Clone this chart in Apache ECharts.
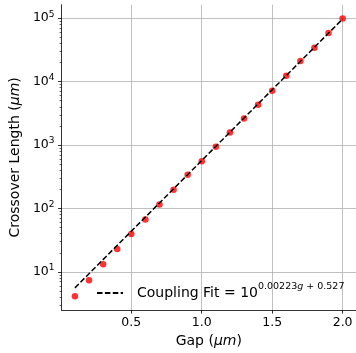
<!DOCTYPE html>
<html><head><meta charset="utf-8">
<script src="https://cdn.jsdelivr.net/npm/echarts@6/dist/echarts.min.js"></script>
<style>html,body{margin:0;padding:0;background:#fff}#c{width:356px;height:353px}</style>
</head><body><div id="c"></div>
<script>
const gaps = [0.1,0.2,0.3,0.4,0.5,0.6,0.7,0.8,0.9,1.0,1.1,1.2,1.3,1.4,1.5,1.6,1.7,1.8,1.9,2.0];
const crossover = [4.14,7.4,13.2,23,39.5,67,115,198,340,556,940,1578,2630,4300,7200,12400,21200,34300,58600,98600];
const fitGaps = [0.1, 2.0];
const fitValues = [5.6, 97000];
const xTicks = [0.5, 1.0, 1.5, 2.0];
const yTicks = [10, 100, 1000, 10000, 100000];
const yMinorTicks = [];
for (let e = 0; e <= 5; e++) for (let m = 2; m <= 9; m++) { const v = m * Math.pow(10, e); if (v > 2.5 && v < 163000) yMinorTicks.push(v); }

const FF = 'DejaVu Sans';
const chart = echarts.init(document.getElementById('c'), null, {renderer: 'canvas'});
chart.setOption({
  animation: false,
  backgroundColor: '#fff',
  grid: {left: 60.8, top: 4.7, width: 296.4, height: 307, containLabel: false},
  legend: {
    data: ['Coupling Fit'], left: 96, top: 282, padding: 0, itemWidth: 26, itemHeight: 14,
    itemStyle: {opacity: 0},
    formatter: () => '{a|Coupling Fit = 10}{s|0.00223}{g|g}{s| + 0.527}',
    textStyle: {
      rich: {
        a: {fontSize: 14, fontFamily: FF, color: '#000', padding: [0, 0, 0, 9]},
        s: {fontSize: 9.5, fontFamily: FF, color: '#000', padding: [0, 0, 12, 0]},
        g: {fontSize: 9.5, fontFamily: FF, fontStyle: 'italic', color: '#000', padding: [0, 0, 12, 0]}
      }
    }
  },
  xAxis: {
    type: 'value', min: 0.005, max: 2.095,
    name: '{n|Gap (}{i|μm}{n|)}', nameLocation: 'middle', nameGap: 22,
    nameTextStyle: {rich: {n: {fontSize: 14, fontFamily: FF, color: '#000'}, i: {fontSize: 14, fontFamily: FF, fontStyle: 'italic', color: '#000'}}},
    axisLine: {show: true, lineStyle: {color: '#000', width: 0.8}},
    axisTick: {show: true, length: 3.5, customValues: xTicks, lineStyle: {color: '#000', width: 0.8}},
    axisLabel: {customValues: xTicks, formatter: v => v.toFixed(1), fontSize: 12.5, fontFamily: FF, color: '#000', margin: 6},
    splitLine: {show: true, lineStyle: {color: '#b0b0b0', width: 0.8}}
  },
  yAxis: [{
    type: 'log', min: 2.5, max: 163000, logBase: 10,
    name: '{n|Crossover Length (}{i|μm}{n|)}', nameLocation: 'middle', nameGap: 34,
    nameTextStyle: {rich: {n: {fontSize: 14, fontFamily: FF, color: '#000'}, i: {fontSize: 14, fontFamily: FF, fontStyle: 'italic', color: '#000'}}},
    axisLine: {show: true, lineStyle: {color: '#000', width: 0.8}},
    axisTick: {show: true, length: 3.5, customValues: yTicks, lineStyle: {color: '#000', width: 0.8}},
    axisLabel: {
      customValues: yTicks, margin: 7,
      formatter: v => '{b|10}{e|' + Math.round(Math.log10(v)) + '}',
      rich: {
        b: {fontSize: 12.5, fontFamily: FF, color: '#000'},
        e: {fontSize: 9, fontFamily: FF, color: '#000', padding: [0, 0, 8, 0]}
      }
    },
    splitLine: {show: true, lineStyle: {color: '#b0b0b0', width: 0.8}}
  }, {
    type: 'log', min: 2.5, max: 163000, logBase: 10, position: 'left',
    axisLine: {show: false},
    axisTick: {show: true, length: 2, customValues: yMinorTicks, lineStyle: {color: '#000', width: 0.6}},
    axisLabel: {show: false},
    splitLine: {show: false}
  }],
  series: [{
    name: 'Crossover', type: 'scatter', data: gaps.map((g, i) => [g, crossover[i]]),
    symbol: 'circle', symbolSize: 6.5, itemStyle: {color: '#ff0000'}, z: 2
  }, {
    name: 'Coupling Fit', type: 'line', data: fitGaps.map((g, i) => [g, fitValues[i]]),
    symbol: 'none', itemStyle: {color: 'rgba(0,0,0,0)'},
    lineStyle: {color: '#000', width: 1.5, type: [5.5, 2.4]}, z: 3
  }]
});
</script></body></html>
